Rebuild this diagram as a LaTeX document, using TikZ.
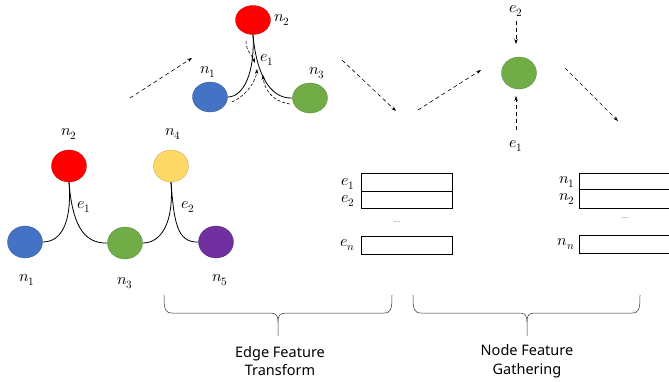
\documentclass[tikz,border=0pt]{standalone}
\usepackage{fontspec}
\usepackage{unicode-math}
\setmathfont{Latin Modern Math}
\newfontfamily\lblfont{Noto Sans}
\usetikzlibrary{shapes.geometric,arrows.meta}
\definecolor{cred}{HTML}{FF0000}
\definecolor{cblue}{HTML}{4472C4}
\definecolor{cgreen}{HTML}{70AD47}
\definecolor{cyellow}{HTML}{FFD966}
\definecolor{cpurple}{HTML}{7030A0}
\begin{document}
\begin{tikzpicture}[x=1pt,y=-1pt,
  ball/.style={ellipse, draw=#1!75!black, line width=0.3pt, fill=#1, minimum width=35pt, minimum height=32pt, inner sep=0pt},
  lab/.style={font=\fontsize{16}{18}\selectfont, inner sep=0pt},
  edgeline/.style={line width=0.8pt, black},
  dasharrow/.style={line width=0.6pt, dash pattern=on 4pt off 3pt, -{Stealth[length=5pt,width=3.5pt]}},
  cell/.style={draw, line width=0.8pt},
  dotsl/.style={font=\lblfont\fontsize{8}{9}\selectfont, text=black!55, inner sep=0pt},
  caption/.style={font=\lblfont\fontsize{14.5}{18.5}\selectfont, align=center, inner sep=0pt},
  brace/.style={line width=0.5pt, black!80}]
\clip (0,0) rectangle (669,381);
% ---------------- left graph ----------------
\node[ball=cred]    (L2) at (69,166) {};
\node[ball=cyellow] (L4) at (171,166) {};
\node[ball=cblue]   (L1) at (25,242) {};
\node[ball=cgreen]  (L3) at (125,243) {};
\node[ball=cpurple] (L5) at (216,242) {};
\draw[edgeline] (L2.south) .. controls +(3,40) and +(19,0) .. (L1.east);
\draw[edgeline] (L2.south) .. controls +(3,38) and +(-26,1) .. (L3.west);
\draw[edgeline] (L4.south) .. controls +(3,40) and +(19,0) .. (L3.east);
\draw[edgeline] (L4.south) .. controls +(3,38) and +(-22,1) .. (L5.west);
\node[lab] (lL2) at (69,134) {$n_2$};
\node[lab] (lL4) at (173,134) {$n_4$};
\node[lab] (lLe1) at (84,207) {$e_1$};
\node[lab] (lLe2) at (188,207) {$e_2$};
\node[lab] (lL1) at (27,280) {$n_1$};
\node[lab] (lL3) at (125,283) {$n_3$};
\node[lab] (lL5) at (220,280) {$n_5$};
% ---------------- top graph ----------------
\node[ball=cred, minimum height=29pt]   (T2) at (253,20) {};
\node[ball=cblue, minimum height=30pt]  (T1) at (210,97) {};
\node[ball=cgreen, minimum height=30pt] (T3) at (310,98) {};
\draw[edgeline] (T2.south) .. controls +(2,38) and +(16,0) .. (T1.east);
\draw[edgeline] (T2.south) .. controls +(3,36) and +(-24,1) .. (T3.west);
\node[lab] (lT2) at (282,20) {$n_2$};
\node[lab] (lT1) at (208,72) {$n_1$};
\node[lab] (lT3) at (317,73) {$n_3$};
\node[lab] (lTe1) at (267,60) {$e_1$};
\coordinate (a1s) at (246,41);
\coordinate (a1e) at (255,63);
\coordinate (a2s) at (232,102);
\coordinate (a2e) at (257,69);
\coordinate (a3s) at (290,104);
\coordinate (a3e) at (263,75);
\draw[dasharrow, dash pattern=on 3pt off 2pt] (a1s) .. controls +(0,10) and +(-3,-8) .. (a1e);
\draw[dasharrow, dash pattern=on 3pt off 2pt] (a2s) .. controls +(14,-6) and +(-1,12) .. (a2e);
\draw[dasharrow, dash pattern=on 3pt off 2pt] (a3s) .. controls +(-20,-3) and +(1,12) .. (a3e);
% ---------------- big dashed arrows ----------------
\coordinate (d1s) at (130,98);  \coordinate (d1e) at (192,58);
\coordinate (d2s) at (342,60);  \coordinate (d2e) at (396,111);
\coordinate (d3s) at (418,110); \coordinate (d3e) at (481,70);
\coordinate (d4s) at (565,68);  \coordinate (d4e) at (618,121);
\draw[dasharrow] (d1s) -- (d1e);
\draw[dasharrow] (d2s) -- (d2e);
\draw[dasharrow] (d3s) -- (d3e);
\draw[dasharrow] (d4s) -- (d4e);
% ---------------- gathering node ----------------
\node[ball=cgreen] (G) at (519,73) {};
\node[lab] (ge2) at (516,11) {$e_2$};
\node[lab] (ge1) at (516,146) {$e_1$};
\coordinate (g2s) at (516,21);  \coordinate (g2e) at (516,44);
\coordinate (g1s) at (516,130); \coordinate (g1e) at (516,96);
\draw[dasharrow] (g2s) -- (g2e);
\draw[dasharrow] (g1s) -- (g1e);
% ---------------- edge table ----------------
\node[cell, minimum width=91pt, minimum height=18pt, inner sep=0pt] (E1) at (406.5,182) {};
\node[cell, minimum width=91pt, minimum height=17pt, inner sep=0pt] (E2) at (406.5,199.5) {};
\node[cell, minimum width=91pt, minimum height=18pt, inner sep=0pt] (En) at (406.5,245) {};
\node[lab, anchor=east] (lE1) at (355,184) {$e_1$};
\node[lab, anchor=east] (lE2) at (355,201) {$e_2$};
\node[lab, anchor=east] (lEn) at (355,245) {$e_n$};
\node[dotsl] (Edots) at (397,222) {...};
% ---------------- node table ----------------
\node[cell, minimum width=101pt, minimum height=16pt, inner sep=0pt] (N1) at (629.5,181) {};
\node[cell, minimum width=101pt, minimum height=19pt, inner sep=0pt] (N2) at (629.5,198.5) {};
\node[cell, minimum width=101pt, minimum height=18pt, inner sep=0pt] (Nn) at (629.5,244) {};
\node[lab, anchor=east] (lN1) at (575,182) {$n_1$};
\node[lab, anchor=east] (lN2) at (575,199) {$n_2$};
\node[lab, anchor=east] (lNn) at (575,244) {$n_n$};
\node[dotsl] (Ndots) at (625,218) {...};
% ---------------- braces ----------------
\draw[brace] (164,295) .. controls (164,309) and (165,313) .. (172,313) -- (270,313)
  .. controls (276,313) and (278,315) .. (278,322) -- (278,336);
\draw[brace] (392,295) .. controls (392,309) and (391,313) .. (384,313) -- (286,313)
  .. controls (280,313) and (278,315) .. (278,322);
\draw[brace] (413,295) .. controls (413,309) and (414,313) .. (421,313) -- (519,313)
  .. controls (525,313) and (527,315) .. (527,322) -- (527,336);
\draw[brace] (640,295) .. controls (640,309) and (639,313) .. (632,313) -- (535,313)
  .. controls (529,313) and (527,315) .. (527,322);
\node[caption] (cap1) at (280,361) {Edge Feature\\Transform};
\node[caption] (cap2) at (527,361) {Node Feature\\Gathering};
\end{tikzpicture}
\end{document}
